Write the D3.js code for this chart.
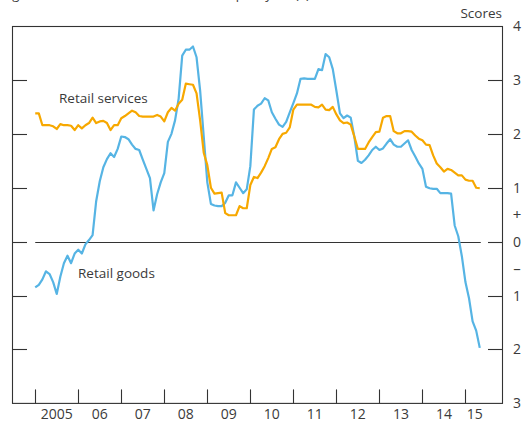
<!DOCTYPE html>
<html>
<head>
<meta charset="utf-8">
<script src="https://cdn.jsdelivr.net/npm/d3@7"></script>
<style>
body{margin:0;background:#fff;}
svg text{font-family:'Open Sans',sans-serif;fill:#3a3a3a;}
</style>
</head>
<body>
<script>
const width =524;
const height =427;
const marginLeft=12;
const marginRight=22;
const plotTop=26;
const plotBottom=403.4;

// monthly, Jan 2005 - May 2015
const startYear=2005;
const retailGoods=[-0.85,-0.80,-0.70,-0.55,-0.60,-0.75,-0.97,-0.65,-0.40,-0.26,-0.40,-0.22,
  -0.15,-0.22,-0.05,0.03,0.12,0.75,1.12,1.38,1.53,1.64,1.57,1.72,
  1.95,1.94,1.90,1.80,1.72,1.70,1.52,1.35,1.18,0.58,0.88,1.10,
  1.27,1.85,2.00,2.25,2.65,3.45,3.56,3.56,3.62,3.42,2.80,1.95,
  1.10,0.70,0.67,0.66,0.66,0.72,0.86,0.86,1.10,1.00,0.90,0.97,
  1.40,2.45,2.52,2.56,2.66,2.62,2.40,2.28,2.17,2.13,2.22,2.40,
  2.57,2.75,3.02,3.03,3.02,3.02,3.02,3.20,3.18,3.48,3.42,3.20,
  2.80,2.38,2.29,2.34,2.30,1.95,1.50,1.46,1.52,1.60,1.70,1.76,
  1.70,1.73,1.82,1.90,1.80,1.76,1.76,1.82,1.88,1.70,1.58,1.45,
  1.35,1.02,0.99,0.98,0.98,0.90,0.90,0.90,0.89,0.30,0.10,-0.27,
  -0.75,-1.05,-1.48,-1.65,-1.97];
const retailServices=[2.38,2.38,2.16,2.16,2.16,2.14,2.09,2.18,2.16,2.16,2.15,2.07,
  2.16,2.10,2.16,2.20,2.30,2.20,2.23,2.24,2.20,2.07,2.16,2.16,
  2.29,2.33,2.38,2.43,2.40,2.33,2.32,2.32,2.32,2.32,2.35,2.32,
  2.23,2.40,2.48,2.43,2.56,2.63,2.93,2.92,2.91,2.75,2.25,1.65,
  1.42,1.00,0.89,0.90,0.91,0.53,0.49,0.49,0.49,0.66,0.62,0.62,
  1.05,1.20,1.18,1.28,1.40,1.55,1.72,1.75,1.90,2.00,2.02,2.12,
  2.45,2.54,2.54,2.54,2.54,2.54,2.50,2.49,2.54,2.45,2.44,2.50,
  2.36,2.25,2.20,2.21,2.17,1.95,1.72,1.72,1.72,1.84,1.94,2.03,
  2.04,2.30,2.33,2.33,2.05,2.01,2.01,2.05,2.05,2.04,1.97,1.91,
  1.88,1.80,1.79,1.60,1.45,1.38,1.30,1.35,1.33,1.28,1.23,1.23,
  1.15,1.13,1.13,1.00,0.99];
const yearLabels=['2005','06','07','08','09','10','11','12','13','14','15'];
const yTicks=[4,3,2,1,0,-1,-2,-3];
const yTickLabels=['4','3','2','1','0','1','2','3'];

const svg = d3.select('body')
              .append('svg')
              .attr('width',width)
              .attr('height',height);

const xScale = d3.scaleLinear().domain([2004.46,2015.85]).range([marginLeft,width-marginRight]);
const yScale = d3.scaleLinear().domain([-3,4]).range([plotBottom,plotTop]);

const toYear=(i)=>startYear+i/12;
const lastYear=toYear(retailGoods.length-1);

// title, cut off at top of the picture
svg.append('text').attr('x',4).attr('y',-1).attr('font-size',13)
   .text('Agents\u2019 scores for retail sales over the past year (a)');

svg.append('text').text('Scores')
   .attr('x',width-marginRight).attr('y',18)
   .attr('text-anchor','end').attr('font-size',13.5);

// frame
svg.append('rect')
   .attr('x',xScale.range()[0]+0.5).attr('y',plotTop+0.5)
   .attr('width',xScale.range()[1]-xScale.range()[0])
   .attr('height',plotBottom-plotTop-0.5)
   .attr('fill','none').attr('stroke','#333').attr('stroke-width',1.1);

// y ticks both sides
const tickG = svg.append('g');
tickG.selectAll('line.left').data(yTicks.slice(1,-1)).enter().append('line')
     .attr('x1',xScale.range()[0]).attr('x2',xScale.range()[0]+15)
     .attr('y1',d=>Math.round(yScale(d))+0.5).attr('y2',d=>Math.round(yScale(d))+0.5)
     .attr('stroke','#333').attr('stroke-width',1.1);
tickG.selectAll('line.right').data(yTicks.slice(1,-1)).enter().append('line')
     .attr('x1',xScale.range()[1]-14).attr('x2',xScale.range()[1])
     .attr('y1',d=>Math.round(yScale(d))+0.5).attr('y2',d=>Math.round(yScale(d))+0.5)
     .attr('stroke','#333').attr('stroke-width',1.1);

svg.selectAll('text.ylab').data(yTicks).enter().append('text')
   .attr('class','ylab')
   .attr('x',width-7).attr('y',d=>yScale(d)+5)
   .attr('text-anchor','middle').attr('font-size',14)
   .text((d,i)=>yTickLabels[i]);
svg.append('text').attr('x',width-7).attr('y',yScale(0.5)+5)
   .attr('text-anchor','middle').attr('font-size',15).text('+');
svg.append('text').attr('x',width-7).attr('y',yScale(-0.5)+5)
   .attr('text-anchor','middle').attr('font-size',15).text('\u2013');

// zero line
svg.append('line')
   .attr('x1',xScale(startYear)).attr('x2',xScale(lastYear)+1)
   .attr('y1',Math.round(yScale(0))+0.5).attr('y2',Math.round(yScale(0))+0.5)
   .attr('stroke','#333').attr('stroke-width',1.1);

// x ticks at year boundaries
const years=d3.range(2005,2016);
svg.selectAll('line.xt').data(years).enter().append('line')
   .attr('x1',d=>Math.round(xScale(d))+0.5).attr('x2',d=>Math.round(xScale(d))+0.5)
   .attr('y1',plotBottom).attr('y2',plotBottom-14)
   .attr('stroke','#333').attr('stroke-width',1.1);

svg.selectAll('text.xlab').data(years).enter().append('text')
   .attr('x',d=>d===2015 ? xScale((d+lastYear)/2+0.05) : xScale(d+0.5))
   .attr('y',419)
   .attr('text-anchor','middle').attr('font-size',14)
   .text((d,i)=>yearLabels[i]);

const line = d3.line().x((d,i)=>xScale(toYear(i))).y(d=>yScale(d));

svg.append('path').datum(retailGoods)
   .attr('d',line).attr('fill','none')
   .attr('stroke','#56b4e4').attr('stroke-width',2.2).attr('stroke-linejoin','round');

svg.append('path').datum(retailServices)
   .attr('d',line).attr('fill','none')
   .attr('stroke','#f7a800').attr('stroke-width',2.2).attr('stroke-linejoin','round');

svg.append('text').text('Retail services').attr('x',59).attr('y',103).attr('font-size',13.5);
svg.append('text').text('Retail goods').attr('x',78).attr('y',278).attr('font-size',13.5);
</script>
</body>
</html>
